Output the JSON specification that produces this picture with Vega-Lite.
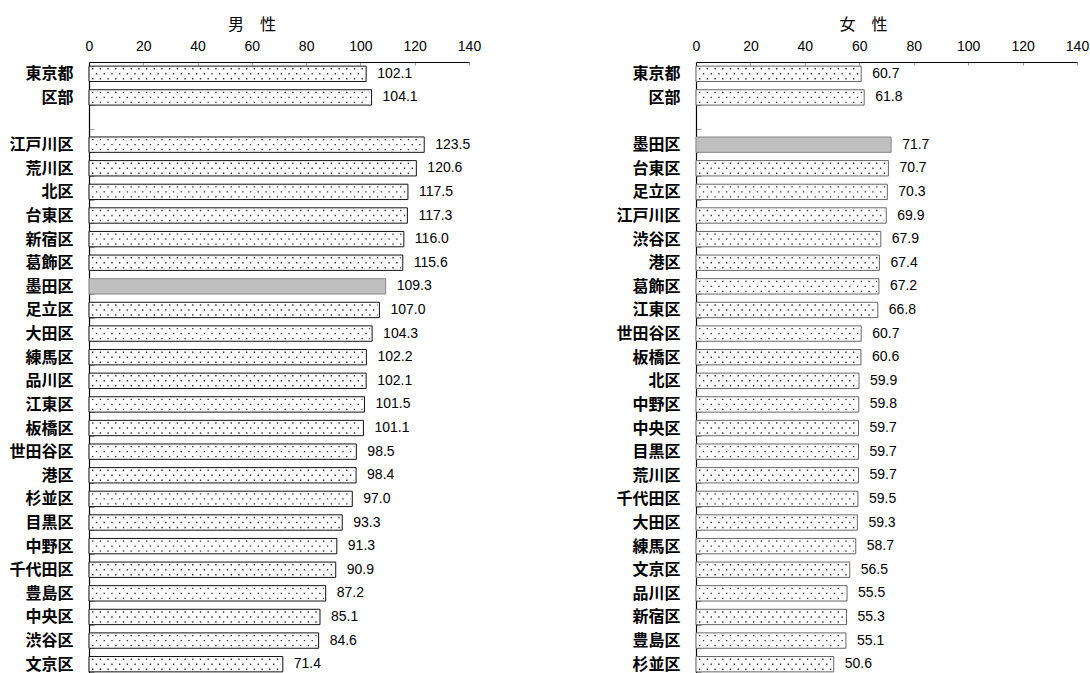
{
  "$schema": "https://vega.github.io/schema/vega-lite/v6.json",
  "padding": {"left": 8, "top": 17, "right": 0, "bottom": 0},
  "background": "white",
  "config": {
    "view": {"stroke": null},
    "axis": {"grid": false, "domainColor": "#000000", "domainWidth": 1.2, "tickColor": "#999999", "labelColor": "#000000"},
    "title": {"font": "Noto Sans CJK JP", "fontSize": 16, "fontWeight": "normal", "color": "#000000"}
  },
  "bounds": "flush",
  "spacing": 227,
  "datasets": {
    "male": [
      {"area": "東京都", "value": 102.1},
      {"area": "区部", "value": 104.1},
      {"area": "江戸川区", "value": 123.5},
      {"area": "荒川区", "value": 120.6},
      {"area": "北区", "value": 117.5},
      {"area": "台東区", "value": 117.3},
      {"area": "新宿区", "value": 116.0},
      {"area": "葛飾区", "value": 115.6},
      {"area": "墨田区", "value": 109.3},
      {"area": "足立区", "value": 107.0},
      {"area": "大田区", "value": 104.3},
      {"area": "練馬区", "value": 102.2},
      {"area": "品川区", "value": 102.1},
      {"area": "江東区", "value": 101.5},
      {"area": "板橋区", "value": 101.1},
      {"area": "世田谷区", "value": 98.5},
      {"area": "港区", "value": 98.4},
      {"area": "杉並区", "value": 97.0},
      {"area": "目黒区", "value": 93.3},
      {"area": "中野区", "value": 91.3},
      {"area": "千代田区", "value": 90.9},
      {"area": "豊島区", "value": 87.2},
      {"area": "中央区", "value": 85.1},
      {"area": "渋谷区", "value": 84.6},
      {"area": "文京区", "value": 71.4}
    ],
    "female": [
      {"area": "東京都", "value": 60.7},
      {"area": "区部", "value": 61.8},
      {"area": "墨田区", "value": 71.7},
      {"area": "台東区", "value": 70.7},
      {"area": "足立区", "value": 70.3},
      {"area": "江戸川区", "value": 69.9},
      {"area": "渋谷区", "value": 67.9},
      {"area": "港区", "value": 67.4},
      {"area": "葛飾区", "value": 67.2},
      {"area": "江東区", "value": 66.8},
      {"area": "世田谷区", "value": 60.7},
      {"area": "板橋区", "value": 60.6},
      {"area": "北区", "value": 59.9},
      {"area": "中野区", "value": 59.8},
      {"area": "中央区", "value": 59.7},
      {"area": "目黒区", "value": 59.7},
      {"area": "荒川区", "value": 59.7},
      {"area": "千代田区", "value": 59.5},
      {"area": "大田区", "value": 59.3},
      {"area": "練馬区", "value": 58.7},
      {"area": "文京区", "value": 56.5},
      {"area": "品川区", "value": 55.5},
      {"area": "新宿区", "value": 55.3},
      {"area": "豊島区", "value": 55.1},
      {"area": "杉並区", "value": 50.6}
    ]
  },
  "hconcat": [
    {
      "title": {"text": "男　性", "dx": -27, "offset": 6},
      "data": {"name": "male"},
      "width": 380,
      "height": 614,
      "encoding": {
        "y": {
          "field": "area", "type": "nominal", "title": null,
          "scale": {
            "domain": ["東京都", "区部", " ", "江戸川区", "荒川区", "北区", "台東区", "新宿区", "葛飾区", "墨田区", "足立区", "大田区", "練馬区", "品川区", "江東区", "板橋区", "世田谷区", "港区", "杉並区", "目黒区", "中野区", "千代田区", "豊島区", "中央区", "渋谷区", "文京区"],
            "paddingInner": 0.35, "paddingOuter": 0.175
          },
          "axis": {"orient": "left", "tickBand": "extent", "tickSize": -5, "labelPadding": 21, "labelFont": "Noto Sans CJK JP", "labelFontSize": 16, "labelFontWeight": "bold"}
        },
        "x": {
          "field": "value", "type": "quantitative", "title": null,
          "scale": {"domain": [0, 140], "nice": false},
          "axis": {"orient": "top", "values": [0, 20, 40, 60, 80, 100, 120, 140], "tickSize": -3, "labelPadding": 12, "labelFont": "Liberation Sans", "labelFontSize": 14, "labelFlush": false}
        }
      },
      "layer": [
        {
          "mark": {"type": "bar", "strokeWidth": 1},
          "encoding": {
            "fill": {"condition": {"test": "datum.area === '墨田区'", "value": "#c0c0c0"}, "value": "#ffffff"},
            "stroke": {"condition": {"test": "datum.area === '墨田区'", "value": "#888888"}, "value": "#111111"}
          }
        },
        {
          "transform": [{"filter": "datum.area !== '墨田区'"}],
          "mark": {"type": "rule", "yOffset": -5, "xOffset": 3, "x2Offset": -2, "color": "#333333", "strokeWidth": 1.4, "strokeDash": [1.4, 6.3]},
          "encoding": {"x": {"datum": 0, "type": "quantitative"}, "x2": {"field": "value"}}
        },
        {
          "transform": [{"filter": "datum.area !== '墨田区'"}],
          "mark": {"type": "rule", "yOffset": 0, "xOffset": 3, "x2Offset": -2, "color": "#333333", "strokeWidth": 1.4, "strokeDash": [1.4, 6.3], "strokeDashOffset": 3.85},
          "encoding": {"x": {"datum": 0, "type": "quantitative"}, "x2": {"field": "value"}}
        },
        {
          "transform": [{"filter": "datum.area !== '墨田区'"}],
          "mark": {"type": "rule", "yOffset": 5, "xOffset": 3, "x2Offset": -2, "color": "#333333", "strokeWidth": 1.4, "strokeDash": [1.4, 6.3]},
          "encoding": {"x": {"datum": 0, "type": "quantitative"}, "x2": {"field": "value"}}
        },
        {
          "mark": {"type": "text", "align": "left", "baseline": "middle", "dx": 11, "font": "Liberation Sans", "fontSize": 14, "color": "#000000"},
          "encoding": {"text": {"field": "value", "type": "quantitative", "format": ".1f"}}
        }
      ]
    },
    {
      "title": {"text": "女　性", "dx": -23, "offset": 6},
      "data": {"name": "female"},
      "width": 381,
      "height": 614,
      "encoding": {
        "y": {
          "field": "area", "type": "nominal", "title": null,
          "scale": {
            "domain": ["東京都", "区部", " ", "墨田区", "台東区", "足立区", "江戸川区", "渋谷区", "港区", "葛飾区", "江東区", "世田谷区", "板橋区", "北区", "中野区", "中央区", "目黒区", "荒川区", "千代田区", "大田区", "練馬区", "文京区", "品川区", "新宿区", "豊島区", "杉並区"],
            "paddingInner": 0.35, "paddingOuter": 0.175
          },
          "axis": {"orient": "left", "tickBand": "extent", "tickSize": -5, "labelPadding": 21, "labelFont": "Noto Sans CJK JP", "labelFontSize": 16, "labelFontWeight": "bold"}
        },
        "x": {
          "field": "value", "type": "quantitative", "title": null,
          "scale": {"domain": [0, 140], "nice": false},
          "axis": {"orient": "top", "values": [0, 20, 40, 60, 80, 100, 120, 140], "tickSize": -3, "labelPadding": 12, "labelFont": "Liberation Sans", "labelFontSize": 14, "labelFlush": false}
        }
      },
      "layer": [
        {
          "mark": {"type": "bar", "strokeWidth": 1},
          "encoding": {
            "fill": {"condition": {"test": "datum.area === '墨田区'", "value": "#c0c0c0"}, "value": "#ffffff"},
            "stroke": {"condition": {"test": "datum.area === '墨田区'", "value": "#888888"}, "value": "#666666"}
          }
        },
        {
          "transform": [{"filter": "datum.area !== '墨田区'"}],
          "mark": {"type": "rule", "yOffset": -5, "xOffset": 3, "x2Offset": -2, "color": "#333333", "strokeWidth": 1.4, "strokeDash": [1.4, 6.3]},
          "encoding": {"x": {"datum": 0, "type": "quantitative"}, "x2": {"field": "value"}}
        },
        {
          "transform": [{"filter": "datum.area !== '墨田区'"}],
          "mark": {"type": "rule", "yOffset": 0, "xOffset": 3, "x2Offset": -2, "color": "#333333", "strokeWidth": 1.4, "strokeDash": [1.4, 6.3], "strokeDashOffset": 3.85},
          "encoding": {"x": {"datum": 0, "type": "quantitative"}, "x2": {"field": "value"}}
        },
        {
          "transform": [{"filter": "datum.area !== '墨田区'"}],
          "mark": {"type": "rule", "yOffset": 5, "xOffset": 3, "x2Offset": -2, "color": "#333333", "strokeWidth": 1.4, "strokeDash": [1.4, 6.3]},
          "encoding": {"x": {"datum": 0, "type": "quantitative"}, "x2": {"field": "value"}}
        },
        {
          "mark": {"type": "text", "align": "left", "baseline": "middle", "dx": 11, "font": "Liberation Sans", "fontSize": 14, "color": "#000000"},
          "encoding": {"text": {"field": "value", "type": "quantitative", "format": ".1f"}}
        }
      ]
    }
  ]
}
